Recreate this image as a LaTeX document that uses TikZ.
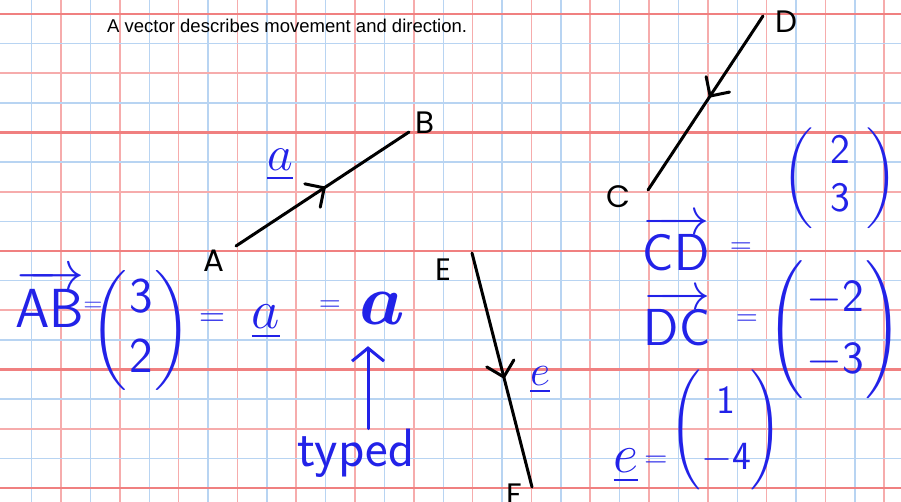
\RequirePackage{fix-cm}
\documentclass[tikz,border=0pt]{standalone}
\usepackage{amsmath,amssymb}
\usepackage{fontspec}
\usepackage{xcolor}
\usepackage{tikz}
\usetikzlibrary{arrows.meta,positioning,decorations.markings}

\newfontfamily\titlefont{Liberation Sans}
\newfontfamily\pointfont{Poppins}
\definecolor{gridblue}{RGB}{184,212,242}
\definecolor{gridred}{RGB}{240,128,128}
\definecolor{gridpink}{RGB}{246,172,172}
\definecolor{ink}{RGB}{34,34,232}
\newcommand{\inksize}[2]{\fontsize{#1}{#2}\selectfont}
\newcommand{\colvec}[3]{\left(\hspace{#1}\begin{matrix}#2\\#3\end{matrix}\hspace{#1}\right)}

\begin{document}
\begin{tikzpicture}[x=1pt, y=-1pt,
  blueline/.style={draw=gridblue, line width=1.4pt},
  pinkline/.style={draw=gridpink, line width=1.6pt},
  redline/.style={draw=gridred, line width=2.4pt},
  seg/.style={line width=3pt, line cap=round},
  midarrow/.style={postaction={decorate}, decoration={markings,
    mark=at position #1 with {\draw[line width=3pt, line cap=round] (-14pt,14pt) -- (0pt,0pt) -- (-14pt,-14pt);}}},
  ptlabel/.style={font=\pointfont\inksize{31}{34}, inner sep=0pt},
  hand/.style={text=ink, inner sep=0pt},
  inkarrow/.style={draw=ink, line width=3pt, line cap=round, -{Straight Barb[length=13pt, width=32pt]}}]
  \useasboundingbox (0,0) rectangle (901,502);
  \fill[white] (0,0) rectangle (901,502);
  % squared paper
  \begin{scope}
    \clip (0,0) rectangle (901,502);
    \foreach \k [evaluate=\k as \gx using 2.2+29.4*\k] in {1,3,...,29}
      \draw[blueline] (\gx,0) -- (\gx,502);
    \foreach \k [evaluate=\k as \gx using 2.2+29.4*\k] in {2,4,...,30}
      \draw[pinkline] (\gx,0) -- (\gx,502);
    \foreach \k [evaluate=\k as \gy using 14+29.625*\k] in {1,3,...,15}
      \draw[blueline] (0,\gy) -- (901,\gy);
    \foreach \k [evaluate=\k as \gy using 14+29.625*\k] in {2,6,10,14}
      \draw[pinkline] (0,\gy) -- (901,\gy);
    \foreach \k [evaluate=\k as \gy using 14+29.625*\k] in {0,4,8,12,16}
      \draw[redline] (0,\gy) -- (901,\gy);
  \end{scope}

  \node[anchor=base west, inner sep=0pt, font=\titlefont\inksize{18.5}{22}] (title) at (107,33)
    {A vector describes movement and direction.};

  % the three line segments
  \coordinate (A) at (236,246);
  \coordinate (B) at (409,132);
  \coordinate (C) at (648,190);
  \coordinate (D) at (763,16);
  \coordinate (E) at (472,253);
  \coordinate (F) at (532,487);
  \draw[seg, midarrow=0.51] (A) -- (B);
  \draw[seg, midarrow=0.46] (D) -- (C);
  \draw[seg, midarrow=0.53] (E) -- (F);
  \node[ptlabel] (labA) at (214,261) {A};
  \node[ptlabel] (labB) at (425,123) {B};
  \node[ptlabel] (labC) at (618,197) {C};
  \node[ptlabel] (labD) at (786,22) {D};
  \node[ptlabel] (labE) at (443,270) {E};
  \node[ptlabel] (labF) at (514,495) {F};

  % handwriting: AB
  \node[hand, font=\inksize{50}{56}] (veca) at (280,165) {$\underline{a}$};
  \node[hand, font=\inksize{55}{60}] (vecAB) at (50,298) {$\overrightarrow{\mathsf{AB}}$};
  \node[hand, font=\inksize{26}{30}] (eqAB) at (93,307) {$=$};
  \node[hand, font=\inksize{50}{60}] (colAB) at (141,330) {$\colvec{2pt}{\mathsf{3}}{\mathsf{2}}$};
  \node[hand, font=\inksize{36}{40}] (eqa) at (212,320) {$=$};
  \node[hand, font=\inksize{55}{60}] (ula) at (266,322) {$\underline{a}$};
  \node[hand, font=\inksize{30}{36}] (eqb) at (330,306) {$=$};
  \node[hand, font=\inksize{72}{78}] (bolda) at (382,308) {$\boldsymbol{a}$};
  \node[hand, font=\sffamily\inksize{54}{60}] (typed) at (356,453) {typed};
  \draw[inkarrow, shorten >=22pt] ([xshift=12pt]typed.north) -- ([xshift=-14pt]bolda.south);

  % handwriting: CD and DC
  \node[hand, font=\inksize{52}{58}] (vecCD) at (676,243) {$\overrightarrow{\mathsf{CD}}$};
  \node[hand, font=\inksize{30}{36}] (eqCD) at (741,248) {$=$};
  \node[hand, font=\inksize{42}{48}] (colCD) at (840,178) {$\colvec{17pt}{\mathsf{2}}{\mathsf{3}}$};
  \node[hand, font=\inksize{52}{58}] (vecDC) at (677,318) {$\overrightarrow{\mathsf{DC}}$};
  \node[hand, font=\inksize{30}{36}] (eqDC) at (747,320) {$=$};
  \node[hand, font=\inksize{46}{62}] (colDC) at (835,330) {$\colvec{2pt}{-\mathsf{2}}{-\mathsf{3}}$};

  % handwriting: e
  \node[hand, font=\inksize{44}{50}] (labe) at (540,380) {$\underline{e}$};
  \node[hand, font=\inksize{55}{60}] (ule) at (626,466) {$\underline{e}$};
  \node[hand, font=\inksize{32}{36}] (eqe) at (656,462) {$=$};
  \node[hand, font=\inksize{40}{56}] (cole) at (726,430) {$\colvec{0pt}{\mathsf{1}}{-\mathsf{4}}$};
\end{tikzpicture}
\end{document}
